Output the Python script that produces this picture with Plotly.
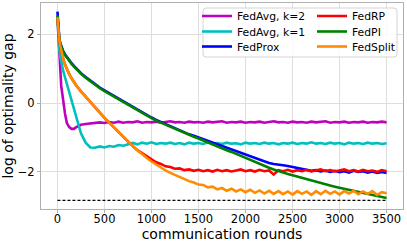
import plotly.graph_objects as go

# ---------------- data ----------------
rounds = [0, 10, 20, 30, 40, 50, 60, 80, 100, 125, 150, 175, 200,
          250, 300, 350, 400, 450, 500, 550, 600, 650, 700, 750, 800, 850, 900, 950,
          1000, 1050, 1100, 1150, 1200, 1250, 1300, 1350, 1400, 1450, 1500, 1550,
          1600, 1650, 1700, 1750, 1800, 1850, 1900, 1950, 2000, 2050, 2100, 2150,
          2200, 2250, 2300, 2350, 2400, 2450, 2500, 2550, 2600, 2650, 2700, 2750,
          2800, 2850, 2900, 2950, 3000, 3050, 3100, 3150, 3200, 3250, 3300, 3350,
          3400, 3450, 3500]

fedavg_k2 = [2.5, 1.95, 1.35, 0.85, 0.5, 0.3, 0.05, -0.3, -0.58, -0.7, -0.75, -0.75, -0.7,
             -0.63, -0.61, -0.59, -0.58, -0.56, -0.58, -0.55, -0.57, -0.54, -0.57, -0.55, -0.56, -0.53, -0.57, -0.55,
             -0.56, -0.54, -0.57, -0.55, -0.53, -0.56, -0.55, -0.57, -0.54, -0.56, -0.55, -0.57,
             -0.54, -0.56, -0.55, -0.53, -0.57, -0.55, -0.56, -0.54, -0.57, -0.55, -0.56, -0.54,
             -0.57, -0.55, -0.53, -0.56, -0.55, -0.57, -0.54, -0.56, -0.55, -0.57, -0.54, -0.56,
             -0.55, -0.53, -0.57, -0.55, -0.56, -0.54, -0.57, -0.55, -0.56, -0.54, -0.57, -0.55,
             -0.56, -0.54, -0.56]

fedavg_k1 = [2.5, 1.95, 1.55, 1.35, 1.2, 1.05, 0.95, 0.75, 0.55, 0.3, 0.05, -0.2, -0.45,
             -0.88, -1.15, -1.29, -1.3, -1.26, -1.29, -1.25, -1.27, -1.22, -1.24, -1.19, -1.16, -1.2, -1.15, -1.18,
             -1.14, -1.19, -1.16, -1.18, -1.15, -1.19, -1.16, -1.2, -1.15, -1.18, -1.16, -1.19,
             -1.14, -1.18, -1.16, -1.19, -1.15, -1.18, -1.17, -1.2, -1.15, -1.18, -1.16, -1.19,
             -1.15, -1.18, -1.16, -1.2, -1.16, -1.18, -1.15, -1.19, -1.16, -1.18, -1.14, -1.18,
             -1.16, -1.19, -1.15, -1.18, -1.16, -1.2, -1.15, -1.18, -1.16, -1.19, -1.15, -1.18,
             -1.16, -1.19, -1.17]

fedprox = [2.66, 2.12, 1.87, 1.74, 1.65, 1.58, 1.52, 1.42, 1.34, 1.24, 1.16, 1.08, 1.0,
           0.87, 0.76, 0.65, 0.55, 0.45, 0.37, 0.29, 0.21, 0.13, 0.05, -0.04, -0.12, -0.2, -0.28, -0.35,
           -0.42, -0.49, -0.55, -0.61, -0.68, -0.74, -0.8, -0.86, -0.91, -0.95, -1.0, -1.05,
           -1.1, -1.15, -1.19, -1.24, -1.28, -1.33, -1.38, -1.43, -1.48, -1.53, -1.59, -1.65,
           -1.7, -1.74, -1.77, -1.78, -1.81, -1.83, -1.86, -1.87, -1.92, -1.94, -1.97, -1.95,
           -1.99, -1.96, -2.0, -1.97, -2.01, -1.98, -2.02, -1.97, -2.0, -1.98, -2.02, -1.99,
           -2.03, -2.0, -2.03]

fedrp = [2.5, 2.1, 1.82, 1.66, 1.52, 1.4, 1.3, 1.12, 0.98, 0.84, 0.72, 0.61, 0.51,
         0.34, 0.18, 0.02, -0.13, -0.28, -0.43, -0.57, -0.71, -0.85, -0.99, -1.12, -1.25, -1.37, -1.46, -1.56,
         -1.64, -1.72, -1.77, -1.84, -1.86, -1.91, -1.9, -1.95, -1.93, -1.97, -1.94, -1.98,
         -1.95, -1.99, -1.94, -1.98, -1.95, -1.99, -1.96, -1.93, -1.98, -1.95, -1.99, -1.94,
         -1.98, -1.96, -2.08, -1.95, -1.98, -1.94, -1.99, -1.95, -1.98, -1.94, -1.99, -1.96,
         -1.93, -1.98, -1.95, -1.99, -1.96, -1.93, -1.98, -1.95, -1.99, -1.94, -1.98, -1.96,
         -2.0, -1.95, -1.98]

fedpi = [2.55, 2.1, 1.85, 1.72, 1.63, 1.56, 1.5, 1.4, 1.32, 1.22, 1.14, 1.06, 0.98,
         0.85, 0.74, 0.63, 0.53, 0.43, 0.35, 0.27, 0.19, 0.11, 0.03, -0.06, -0.14, -0.22, -0.3, -0.37,
         -0.44, -0.51, -0.57, -0.63, -0.7, -0.76, -0.82, -0.88, -0.93, -0.98, -1.03, -1.09,
         -1.15, -1.2, -1.26, -1.32, -1.37, -1.42, -1.48, -1.53, -1.59, -1.64, -1.7, -1.76,
         -1.83, -1.88, -1.93, -1.98, -2.02, -2.06, -2.1, -2.14, -2.18, -2.22, -2.26, -2.3,
         -2.33, -2.37, -2.4, -2.43, -2.46, -2.49, -2.52, -2.55, -2.57, -2.6, -2.63, -2.66,
         -2.69, -2.72, -2.76]

fedsplit = [2.5, 2.1, 1.82, 1.66, 1.52, 1.4, 1.3, 1.12, 0.98, 0.84, 0.72, 0.61, 0.51,
            0.34, 0.18, 0.02, -0.13, -0.28, -0.43, -0.57, -0.71, -0.85, -0.99, -1.12, -1.25, -1.37, -1.49, -1.6,
            -1.7, -1.79, -1.88, -1.96, -2.03, -2.09, -2.16, -2.2, -2.27, -2.31, -2.37, -2.38,
            -2.45, -2.43, -2.51, -2.47, -2.55, -2.49, -2.57, -2.51, -2.59, -2.52, -2.61, -2.54,
            -2.63, -2.55, -2.64, -2.56, -2.65, -2.57, -2.66, -2.56, -2.64, -2.57, -2.67, -2.56,
            -2.65, -2.55, -2.64, -2.57, -2.66, -2.56, -2.63, -2.55, -2.65, -2.57, -2.64, -2.56,
            -2.67, -2.59, -2.62]

optimum_rounds = [0, 3500]
optimum_level = [-2.83, -2.83]

x_ticks = [0, 500, 1000, 1500, 2000, 2500, 3000, 3500]
y_ticks = [-2, 0, 2]

series_names = ["FedAvg, k=2", "FedAvg, k=1", "FedProx", "FedRP", "FedPI", "FedSplit"]
series_values = [fedavg_k2, fedavg_k1, fedprox, fedrp, fedpi, fedsplit]
series_colors = ["#bf00bf", "#00bfbf", "#0000ff", "#ff0000", "#008000", "#ff8c00"]

FONT = "DejaVu Sans"

# plot area in pixels: x 41..403, y 3..209 (layout below)
W, H = 407, 243
ML, MR, MT, MB = 41, 4, 3, 34
PW, PH = W - ML - MR, H - MT - MB


def px_x(p):
    return (p - ML) / PW


def px_y(p):
    return (H - MB - p) / PH


# legend slots: two columns of three rows (matplotlib ncol=2 look)
col_left = [197, 312]
row_top = [1.5, 17.0, 32.0]

fig = go.Figure()
legend_layouts = {}
for i, (name, vals, color) in enumerate(zip(series_names, series_values, series_colors)):
    leg_id = "legend" if i == 0 else f"legend{i + 1}"
    col, row = divmod(i, 3)
    fig.add_trace(go.Scatter(x=rounds, y=vals, mode="lines", name=name,
                             line=dict(color=color, width=2.6),
                             legend=leg_id))
    legend_layouts[leg_id] = dict(
        x=px_x(col_left[col]), y=px_y(row_top[row]),
        xanchor="left", yanchor="top", orientation="v",
        bgcolor="rgba(0,0,0,0)", borderwidth=0,
        font=dict(family=FONT, size=10.8, color="black"))

fig.add_trace(go.Scatter(x=optimum_rounds, y=optimum_level, mode="lines",
                         line=dict(color="black", width=1.1, dash="3px,2px"),
                         showlegend=False))

# rounded legend frame
bx0, bx1, by0, by1 = px_x(203), px_x(397), px_y(57), px_y(8)
rx, ry = 3 / PW, 3 / PH
frame_path = (f"M {bx0 + rx},{by1} L {bx1 - rx},{by1} Q {bx1},{by1} {bx1},{by1 - ry} "
              f"L {bx1},{by0 + ry} Q {bx1},{by0} {bx1 - rx},{by0} "
              f"L {bx0 + rx},{by0} Q {bx0},{by0} {bx0},{by0 + ry} "
              f"L {bx0},{by1 - ry} Q {bx0},{by1} {bx0 + rx},{by1} Z")

axis_common = dict(showgrid=True, gridcolor="#dedede", gridwidth=1, zeroline=False,
                   showline=True, linecolor="#b0b0b0", linewidth=1, mirror=True,
                   ticks="outside", ticklen=3, tickwidth=1, tickcolor="#b0b0b0",
                   tickfont=dict(family=FONT, size=11.5, color="black"))

fig.update_layout(
    width=W, height=H,
    margin=dict(l=ML, r=MR, t=MT, b=MB, autoexpand=False),
    paper_bgcolor="white", plot_bgcolor="white",
    font=dict(family=FONT, size=14, color="black"),
    showlegend=True,
    xaxis=dict(range=[-175, 3675], tickvals=x_ticks, ticklabelstandoff=-4,
               title=dict(text="communication rounds", font=dict(size=14), standoff=0),
               **axis_common),
    yaxis=dict(range=[-3.08, 2.91], tickvals=y_ticks,
               title=dict(text="log of optimality gap", font=dict(size=14), standoff=4),
               **axis_common),
    shapes=[dict(type="path", xref="paper", yref="paper", path=frame_path,
                 line=dict(color="#d4d4d4", width=1),
                 fillcolor="rgba(255,255,255,0.85)", layer="above")],
    **legend_layouts,
)

fig.write_html("out.html", config={"displayModeBar": False},
               post_script="document.body.style.margin='0px';document.body.style.overflow='hidden';")
